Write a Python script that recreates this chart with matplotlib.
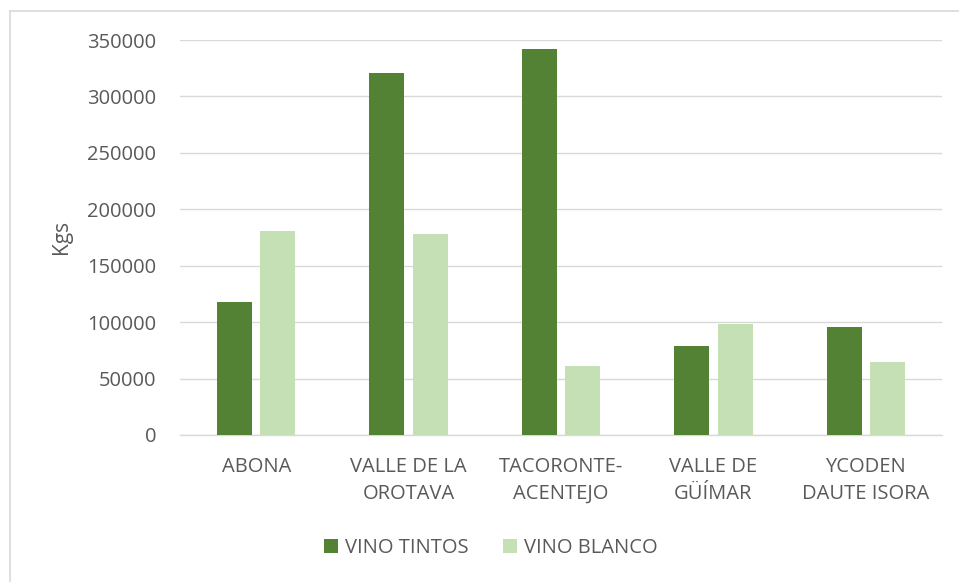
import matplotlib
matplotlib.use("Agg")
import matplotlib.pyplot as plt
from matplotlib.lines import Line2D
import numpy as np

categories = ["ABONA", "VALLE DE LA\nOROTAVA", "TACORONTE-\nACENTEJO", "VALLE DE\nGÜÍMAR", "YCODEN\nDAUTE ISORA"]
vino_tintos = [118000, 321000, 342000, 78500, 96000]
vino_blanco = [181000, 178500, 61000, 98500, 64500]
series_names = ["VINO TINTOS", "VINO BLANCO"]
yticks = [0, 50000, 100000, 150000, 200000, 250000, 300000, 350000]

plt.rcParams['font.family'] = ['Open Sans', 'DejaVu Sans']
text_color = "#595959"
dark = "#548235"
light = "#C5E0B4"
fs = 14.5

fig = plt.figure(figsize=(9.59, 5.82), dpi=100)
W, H = 959, 582
ax = fig.add_axes([180 / W, 1 - 435 / H, (942 - 180) / W, (435 - 40) / H])

x = np.arange(len(categories))
bw = 0.23
off = 0.142
ax.bar(x - off, vino_tintos, width=bw, color=dark, label=series_names[0], zorder=3)
ax.bar(x + off, vino_blanco, width=bw, color=light, label=series_names[1], zorder=3)

ax.set_xlim(-0.5, len(categories) - 0.5)
ax.set_ylim(0, 350000)
ax.set_yticks(yticks)
ax.set_yticklabels([str(v) for v in yticks], fontsize=fs, color=text_color)
ax.set_xticks(x)
ax.set_xticklabels(categories, fontsize=fs, color=text_color, linespacing=1.45)
ax.tick_params(axis='both', length=0)
ax.tick_params(axis='y', pad=17)
ax.tick_params(axis='x', pad=16)
ax.grid(axis='y', color="#D9D9D9", linewidth=1.0, zorder=0)
for s in ["top", "right", "left"]:
    ax.spines[s].set_visible(False)
ax.spines["bottom"].set_color("#D9D9D9")
ax.spines["bottom"].set_linewidth(1.0)

fig.text(62 / W, 1 - 237 / H, "Kgs", rotation=90, fontsize=15, color=text_color,
         ha='center', va='center')

leg = fig.legend(loc='center', bbox_to_anchor=(491 / W, 1 - 548 / H), ncol=2, frameon=False,
                 fontsize=fs, handlelength=0.7, handleheight=0.7, handletextpad=0.35,
                 columnspacing=1.7)
for t in leg.get_texts():
    t.set_color(text_color)

# outer chart border (only top and left edges fall inside the image)
fig.add_artist(Line2D([10 / W, 1.0], [1 - 11 / H, 1 - 11 / H], transform=fig.transFigure,
                      color="#D9D9D9", linewidth=1.2))
fig.add_artist(Line2D([10 / W, 10 / W], [0.0, 1 - 11 / H], transform=fig.transFigure,
                      color="#D9D9D9", linewidth=1.2))

fig.savefig("out.png", dpi=100)
